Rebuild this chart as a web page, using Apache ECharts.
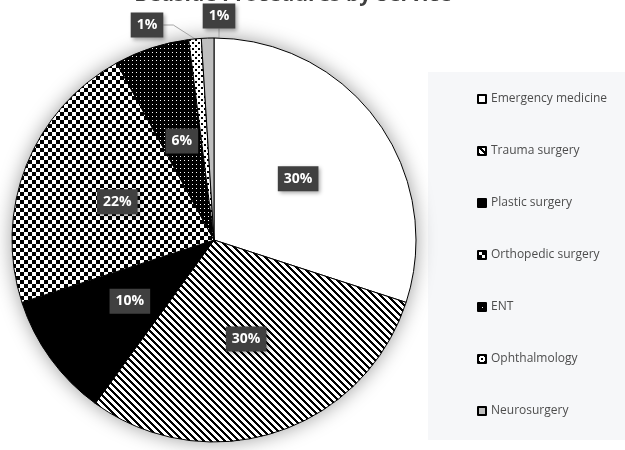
<!DOCTYPE html>
<html>
<head>
<meta charset="utf-8">
<script src="https://cdn.jsdelivr.net/npm/echarts@6/dist/echarts.min.js"></script>
<style>
  html, body { margin: 0; padding: 0; background: #ffffff; }
  #chart { width: 625px; height: 450px; }
</style>
</head>
<body>
<div id="chart"></div>
<script>
// Share of procedures (%) by service
const categories = ['Emergency medicine', 'Trauma surgery', 'Plastic surgery', 'Orthopedic surgery', 'ENT', 'Ophthalmology', 'Neurosurgery'];
const shares = [30, 30, 10, 22, 6, 1, 1];
const titleText = 'Bedside Procedures by Service';

// Small repeating tiles used as monochrome fill patterns
function makeTile(w, h, pick) {
  const c = document.createElement('canvas');
  c.width = w; c.height = h;
  const ctx = c.getContext('2d');
  for (let y = 0; y < h; y++) {
    for (let x = 0; x < w; x++) {
      ctx.fillStyle = pick(x, y);
      ctx.fillRect(x, y, 1, 1);
    }
  }
  return { image: c, repeat: 'repeat' };
}
const B = '#000000', W = '#ffffff';
const fills = [
  W,                                                                       // plain white
  makeTile(7, 7, (x, y) => (((x - y) % 7 + 7) % 7) < 3 ? B : W),          // diagonal stripes
  B,                                                                       // solid black
  makeTile(8, 8, (x, y) => ((Math.floor(x / 4) + Math.floor(y / 4)) % 2) ? B : W), // checkerboard
  makeTile(4, 4, (x, y) => (x === 0 && y === 0) ? W : B),                 // black with white dots
  makeTile(6, 6, (x, y) => ((x < 2 && y < 2) || (x >= 3 && x < 5 && y >= 3 && y < 5)) ? B : W), // white with black dots
  '#bfbfbf'                                                                // grey
];

const insideLabel = {
  show: true,
  position: 'inside',
  formatter: p => Math.round(p.percent) + '%',
  color: '#ffffff',
  fontFamily: '"Open Sans", sans-serif',
  fontWeight: 'bold',
  fontSize: 14,
  lineHeight: 16,
  backgroundColor: '#404040',
  padding: [5, 6, 4, 6],
  shadowColor: 'rgba(0,0,0,0.35)',
  shadowBlur: 4,
  shadowOffsetX: 2,
  shadowOffsetY: 2
};

const pieData = categories.map((name, i) => {
  const small = i >= 5;
  return {
    name: name,
    value: shares[i],
    itemStyle: { color: fills[i] },
    label: Object.assign({}, insideLabel, { position: small ? 'outside' : 'inside' }),
    labelLine: { show: small, length: 10, length2: 10, lineStyle: { color: '#a6a6a6', width: 1 } }
  };
});

const CX = 214, CY = 240, R = 202;

const chart = echarts.init(document.getElementById('chart'), null, { renderer: 'canvas' });
chart.setOption({
  animation: false,
  backgroundColor: '#ffffff',
  graphic: [
    {
      type: 'rect', z: 0, silent: true,
      shape: { x: 428, y: 72, width: 197, height: 368 },
      style: { fill: '#f6f7f9' }
    },
    {
      type: 'text', z: 10, silent: true,
      style: {
        text: titleText, x: 293, y: 6, align: 'center', verticalAlign: 'bottom',
        font: 'bold 21px "Open Sans", sans-serif', fill: '#404040'
      }
    }
  ],
  legend: {
    data: categories,
    orient: 'vertical',
    left: 477,
    top: 92,
    itemWidth: 8,
    itemHeight: 8,
    itemGap: 38,
    icon: 'rect',
    padding: 0,
    textStyle: { color: '#4d4d4d', fontSize: 12, lineHeight: 14, fontFamily: '"Open Sans", sans-serif' }
  },
  series: [
    {
      // soft drop shadow under the whole disc
      type: 'pie', z: 1, silent: true,
      center: [CX, CY], radius: R,
      label: { show: false }, labelLine: { show: false },
      itemStyle: { color: '#ffffff', shadowBlur: 20, shadowColor: 'rgba(0,0,0,0.4)' },
      data: [{ name: '', value: 1 }]
    },
    {
      type: 'pie', z: 2,
      center: [CX, CY], radius: R,
      startAngle: 90, clockwise: true,
      avoidLabelOverlap: false,
      itemStyle: { borderColor: '#000000', borderWidth: 1 },
      emphasis: { disabled: true },
      data: pieData,
      labelLayout: function (p) {
        if (p.dataIndex === 5) return { x: 147, y: 25, align: 'center', verticalAlign: 'middle' };
        if (p.dataIndex === 6) return { x: 219, y: 16, align: 'center', verticalAlign: 'middle' };
        return {};
      }
    }
  ]
});
</script>
</body>
</html>
